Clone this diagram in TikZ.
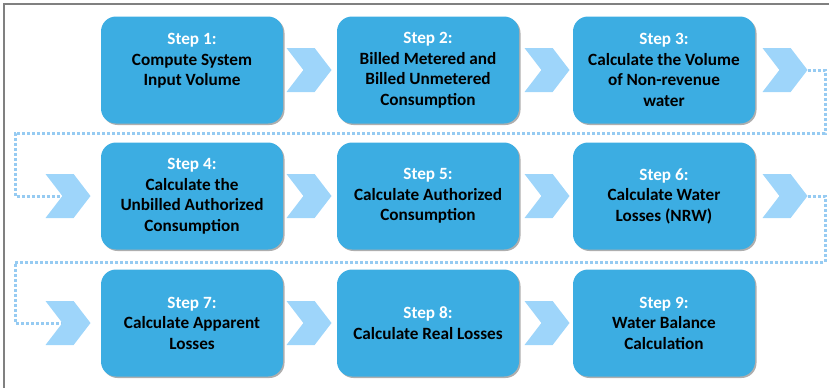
\documentclass[tikz,border=0pt]{standalone}
\usepackage{fontspec}
\setmainfont{Carlito}
\usetikzlibrary{shapes.symbols,shadows,backgrounds}

\begin{document}
\begin{tikzpicture}[x=1pt,y=-1pt,
    stepbox/.style={rectangle,rounded corners=15pt,fill=boxblue,
      minimum width=182pt,minimum height=107pt,align=center,
      font=\fontsize{17.2}{20.5}\selectfont\bfseries,
      drop shadow={shadow xshift=1.5pt,shadow yshift=-1.5pt,opacity=.45,fill=black!70}},
    chev/.style={signal,signal from=west,signal to=east,signal pointer angle=105,
      fill=chevblue,minimum width=45pt,minimum height=44pt,inner sep=0pt},
    loopline/.style={draw=dotblue,line width=3pt,dash pattern=on 3pt off 2pt}]
                \definecolor{boxblue}{RGB}{60,173,226}
                \definecolor{chevblue}{RGB}{158,213,250}
                \definecolor{dotblue}{RGB}{150,203,242}
                \useasboundingbox (0,0) rectangle (829,388);
                % frame (top and left only)
                \draw[line width=1.5pt,color=black!50] (829,4) -- (4,4) -- (4,388);
                % steps
                \node[stepbox] (b1) at (192,70) {\textcolor{white}{Step 1:}\\Compute System\\Input Volume\\~};
                \node[stepbox] (b2) at (428,70) {\textcolor{white}{Step 2:}\\Billed Metered and\\Billed Unmetered\\Consumption};
                \node[stepbox] (b3) at (664,70) {\textcolor{white}{Step 3:}\\Calculate the Volume\\of Non-revenue\\water};
                \node[stepbox] (b4) at (192,196) {\textcolor{white}{Step 4:}\\Calculate the\\Unbilled Authorized\\Consumption};
                \node[stepbox] (b5) at (428,196) {\textcolor{white}{Step 5:}\\Calculate Authorized\\Consumption};
                \node[stepbox] (b6) at (664,196) {\textcolor{white}{Step 6:}\\Calculate Water\\Losses (NRW)};
                \node[stepbox] (b7) at (192,323) {\textcolor{white}{Step 7:}\\Calculate Apparent\\Losses};
                \node[stepbox] (b8) at (428,323) {\textcolor{white}{Step 8:}\\Calculate Real Losses};
                \node[stepbox] (b9) at (664,323) {\textcolor{white}{Step 9:}\\Water Balance\\Calculation};
                % chevrons
                \foreach \n/\x/\y in {1/309/70,2/547/70,3/785/70,4/68/196,5/309/196,6/547/196,7/785/196,8/68/323,9/309/323,10/547/323}{
                    \node[chev] (a\n) at (\x,\y) {};
                }
                % row-to-row links
                \begin{scope}[on background layer]
                    \draw[loopline] (a3.east) -| (825,133) -| (15,196) -- (a4.center);
                    \draw[loopline] (a7.east) -| (825,262) -| (15,323) -- (a8.center);
                \end{scope}
\end{tikzpicture}
\end{document}
